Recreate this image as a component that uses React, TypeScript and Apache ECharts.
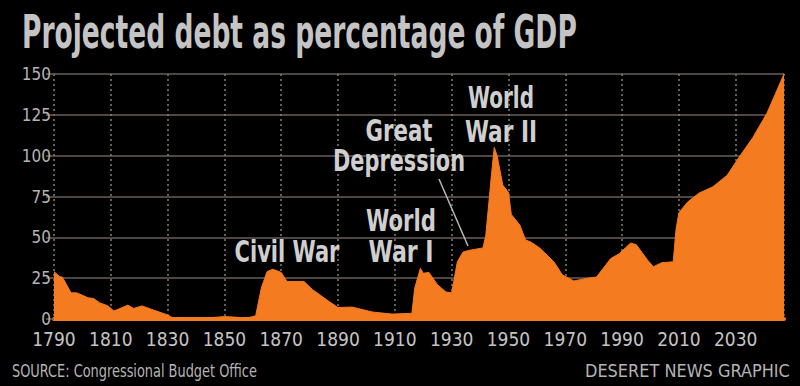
import React, { useEffect, useRef } from "react";
import * as echarts from "echarts";

const years = [1790, 1792, 1793, 1796, 1798, 1802, 1804, 1806, 1809, 1811, 1812, 1816, 1818, 1821, 1825, 1830, 1832, 1835, 1840, 1845, 1848, 1850, 1853, 1858, 1860, 1861, 1863, 1865, 1867, 1870, 1872, 1878, 1881, 1887, 1890, 1895, 1902, 1909, 1916, 1917, 1919, 1920, 1922, 1925, 1928, 1930, 1932, 1934, 1936, 1941, 1942, 1944, 1945, 1946, 1948, 1950, 1951, 1954, 1956, 1958, 1961, 1966, 1969, 1973, 1978, 1981, 1986, 1989, 1993, 1995, 1999, 2001, 2004, 2008, 2009, 2010, 2013, 2017, 2022, 2027, 2031, 2036, 2041, 2044, 2047];
const debt = [29, 26, 25.5, 16, 16, 13, 12.5, 10, 8, 5, 5.5, 8.5, 6.5, 8, 5.5, 2.5, 0.5, 0.2, 0.5, 0.8, 1.2, 1.5, 1.2, 0.6, 1.5, 2, 19, 29, 30.5, 28.5, 23, 23, 18, 10.5, 7, 7.3, 4.3, 3, 3.5, 19, 31, 28, 28.5, 21, 16.5, 16, 35, 41, 42, 43.5, 51, 88, 105, 100, 82, 77.5, 64, 57.5, 48.5, 47, 43.5, 35, 27, 23.3, 25, 25.7, 37, 40, 46.5, 45.5, 36, 32, 34.5, 35, 55, 65, 71.5, 77, 81, 88, 98.6, 111, 126, 138, 150];

const title = "Projected debt as percentage of GDP";
const source = "SOURCE: Congressional Budget Office";
const credit = "DESERET NEWS GRAPHIC";
const annotations = [
  { lines: ["Civil War"], cx: 287, cy: [251.5], w: [105] },
  { lines: ["World", "War I"], cx: 401, cy: [220, 251.5], w: [70, 65] },
  { lines: ["Great", "Depression"], cx: 399, cy: [130, 160], w: [67, 132] },
  { lines: ["World", "War II"], cx: 501, cy: [97.5, 131], w: [66, 72] },
];

const NARROW = '"Liberation Sans Narrow", "DejaVu Sans Condensed", "Roboto", sans-serif';

function fit(text: string, font: string, target: number): number {
  const c = document.createElement("canvas").getContext("2d");
  if (!c) return 1;
  c.font = font;
  const w = c.measureText(text).width;
  return w > 0 ? target / w : 1;
}

export default function App() {
  const ref = useRef<HTMLDivElement>(null);
  useEffect(() => {
    document.body.style.margin = "0";
    document.body.style.background = "#000";
    if (!ref.current) return;
    const chart = echarts.init(ref.current, null, { renderer: "svg" });
    const data = years.map((y, i) => [y, debt[i]]);

    const graphics: any[] = [];
    const titleFont = `bold 46px ${NARROW}`;
    graphics.push({
      type: "text",
      x: 22,
      y: 31.5,
      scaleX: fit(title, titleFont, 555),
      style: {
        text: title,
        font: titleFont,
        fill: "#c4c4c4",
        textAlign: "left",
        textVerticalAlign: "middle",
      },
    });
    const annFont = `bold 31px ${NARROW}`;
    annotations.forEach((a) => {
      a.lines.forEach((ln, i) => {
        graphics.push({
          type: "text",
          x: a.cx,
          y: a.cy[i],
          scaleX: fit(ln, annFont, a.w[i]),
          z: 100,
          style: {
            text: ln,
            font: annFont,
            fill: "#cfcfcf",
            textAlign: "center",
            textVerticalAlign: "middle",
          },
        });
      });
    });
    graphics.push({
      type: "line",
      z: 100,
      shape: { x1: 439, y1: 179, x2: 468, y2: 246 },
      style: { stroke: "#b8b8b8", lineWidth: 1.5 },
    });
    const smallFont = `17px ${NARROW}`;
    graphics.push({
      type: "text",
      x: 12,
      y: 371.5,
      scaleX: fit(source, smallFont, 245),
      style: { text: source, font: smallFont, fill: "#b4b4b4", textAlign: "left", textVerticalAlign: "middle" },
    });
    graphics.push({
      type: "text",
      x: 585,
      y: 371.5,
      scaleX: fit(credit, smallFont, 205),
      style: { text: credit, font: smallFont, fill: "#b4b4b4", textAlign: "left", textVerticalAlign: "middle" },
    });

    chart.setOption({
      animation: false,
      backgroundColor: "#000",
      grid: { left: 54, top: 74, width: 730, height: 245, containLabel: false },
      xAxis: {
        type: "value",
        min: 1790,
        max: 2047,
        interval: 20,
        axisLine: { show: true, lineStyle: { color: "#f57b20", width: 4 } },
        axisTick: { show: false },
        axisLabel: {
          color: "#c4c4c4",
          fontFamily: NARROW,
          fontSize: 19,
          lineHeight: 19,
          margin: 10,
          showMaxLabel: false,
          formatter: (v: number) => String(v),
        },
        splitLine: { show: true, lineStyle: { color: "#8a7b7b", width: 1.5, type: [2, 3] } },
      },
      yAxis: {
        type: "value",
        min: 0,
        max: 150,
        interval: 25,
        axisLine: { show: false },
        axisTick: { show: true, length: 8, lineStyle: { color: "#6b5d5d", width: 1.5 } },
        axisLabel: { color: "#b4b4b4", fontFamily: NARROW, fontSize: 17, lineHeight: 17, margin: 3 },
        splitLine: { show: true, lineStyle: { color: "#6b5d5d", width: 1.5 } },
      },
      series: [
        {
          type: "line",
          data,
          showSymbol: false,
          symbol: "none",
          lineStyle: { color: "#f57b20", width: 1 },
          areaStyle: { color: "#f57b20", opacity: 1 },
          z: 5,
        },
      ],
      graphic: graphics,
    });
    return () => chart.dispose();
  }, []);
  return (
    <div
      ref={ref}
      style={{ position: "fixed", left: 0, top: 0, width: 800, height: 386, background: "#000" }}
    />
  );
}
